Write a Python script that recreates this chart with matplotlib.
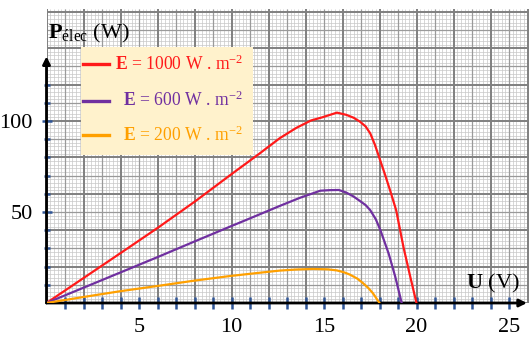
import numpy as np
import matplotlib
matplotlib.use('Agg')
import matplotlib.pyplot as plt
from matplotlib.patches import Rectangle
from matplotlib.lines import Line2D

plt.rcParams['font.family'] = ['Liberation Serif', 'DejaVu Serif']
plt.rcParams['mathtext.fontset'] = 'custom'
plt.rcParams['mathtext.rm'] = 'Liberation Serif'
plt.rcParams['mathtext.bf'] = 'Liberation Serif:bold'
plt.rcParams['mathtext.it'] = 'Liberation Serif:italic'

# P(U) curves
U_1000 = [0, 2, 4, 6, 8, 10, 11.5, 12.6, 13.5, 14.3, 14.9, 15.3, 15.7, 16.2,
          16.6, 16.95, 17.25, 17.5, 17.75, 18.0, 18.3, 18.6, 18.9, 19.3, 19.65, 20.0]
P_1000 = [0, 13.7, 27.4, 41.2, 55.6, 70.8, 82, 90.5, 96.2, 100.3, 102, 103.3,
          104.6, 103.4, 101.8, 99.6, 97, 93.2, 87, 79.5, 70.5, 61, 51, 30.5, 15, 0]

U_600 = [0, 2, 4, 6, 8, 10, 11, 12.6, 13.7, 14.8, 15.3, 15.8, 16.2, 16.6,
         16.95, 17.25, 17.5, 17.8, 18.05, 18.5, 18.85, 19.2]
P_600 = [0, 8.4, 16.8, 25.2, 33.8, 42.3, 46.5, 53.3, 57.8, 61.7, 62, 62.1,
         60.7, 58.5, 56, 53.8, 51, 46, 40, 27, 14.5, 0]

U_200 = [0, 2, 4, 6.1, 8, 9.9, 11.5, 12.6, 13.5, 14.4, 15.2, 15.7, 16.1, 16.4,
         16.8, 17.1, 17.4, 17.65, 18.0]
P_200 = [0, 3.3, 6.5, 9.5, 12.3, 14.8, 16.6, 17.8, 18.4, 18.7, 18.5, 17.9,
         16.8, 15.6, 13.4, 11, 8.2, 5.3, 0]

labels = ['1000', '600', '200']
cols = ['#ff1a1a', '#7030a0', '#ffa000']

x_ticklabels = [5, 10, 15, 20, 25]
x_minor = [1, 2, 3, 4, 6, 7, 8, 9, 11, 12, 13, 14, 16, 17, 18, 19, 21, 22, 23, 24]
y_ticklabels = [50, 100]
y_minor = [10, 20, 30, 40, 60, 70, 80, 90, 110, 120]

W, H = 529, 339
fig = plt.figure(figsize=(W / 100, H / 100), dpi=100, facecolor='w')
# origin at pixel (46.5, 303), 18.5 px per volt, 1.82 px per watt
ax = fig.add_axes([46.5 / W, 36 / H, (W - 46.5) / W, 294 / H])
xmax = (W - 46.5) / 18.5
ymax = 294 / 1.82
ax.set_xlim(0, xmax)
ax.set_ylim(0, ymax)
for s in ax.spines.values():
    s.set_visible(False)

# graph paper
ax.vlines(np.arange(0, 27, 0.2), 0, ymax, color='#c8c8c8', lw=0.5, zorder=0)
ax.hlines(np.arange(0, 162, 2), 0, xmax, color='#c8c8c8', lw=0.5, zorder=0)
ax.vlines(np.arange(1, 27, 2), 0, ymax, color='#9a9a9a', lw=0.9, zorder=0)
ax.hlines(np.arange(10, 162, 20), 0, xmax, color='#9a9a9a', lw=0.9, zorder=0)
ax.vlines(np.arange(0, 27, 2), 0, ymax, color='#808080', lw=1.4, zorder=0)
ax.hlines(np.arange(0, 162, 20), 0, xmax, color='#808080', lw=1.4, zorder=0)

# axes with arrows
ax.annotate('', xy=(25.97, 0), xytext=(0, 0), annotation_clip=False,
            arrowprops=dict(arrowstyle='-|>', color='k', lw=2, shrinkA=0,
                            shrinkB=0, mutation_scale=11))
ax.annotate('', xy=(0, 135.5), xytext=(0, 0), annotation_clip=False,
            arrowprops=dict(arrowstyle='-|>', color='k', lw=2, shrinkA=0,
                            shrinkB=0, mutation_scale=11))

tick_col = '#2f5597'
ax.set_xticks(x_ticklabels)
ax.set_xticks(x_minor, minor=True)
ax.set_yticks(y_ticklabels)
ax.set_yticks(y_minor, minor=True)
ax.tick_params(axis='x', which='both', direction='inout', length=8,
               width=1.8, color=tick_col, labelsize=16, pad=7)
ax.tick_params(axis='y', which='major', direction='inout', length=7.5,
               width=1.8, color=tick_col, labelsize=16, pad=6)
ax.tick_params(axis='y', which='minor', direction='inout', length=4.5,
               width=1.8, color=tick_col)

ax.plot(U_1000, P_1000, color=cols[0], lw=1.6, zorder=5, solid_joinstyle='round')
ax.plot(U_600, P_600, color=cols[1], lw=1.6, zorder=5, solid_joinstyle='round')
ax.plot(U_200, P_200, color=cols[2], lw=1.6, zorder=5, solid_joinstyle='round')

# axis titles
fig.text(48 / W, 1 - 38 / H, r'$\mathbf{P}_{\mathrm{élec}}$ (W)', fontsize=16,
         ha='left', va='baseline')
fig.text(466 / W, 1 - 288 / H, r'$\mathbf{U}$ (V)', fontsize=16,
         ha='left', va='baseline')

# legend box
fig.patches.append(Rectangle((81 / W, 1 - 155 / H), 172 / W, 108 / H,
                             transform=fig.transFigure, facecolor='#fff2cc',
                             edgecolor='none', zorder=3))
rows_y = [64, 100.5, 135]
for k in range(3):
    yy = 1 - rows_y[k] / H
    fig.lines.append(Line2D([83 / W, 109 / W], [yy, yy], transform=fig.transFigure,
                            color=cols[k], lw=2.4, zorder=4))
    fig.text(243 / W, yy, r'$\mathbf{E}$ = ' + labels[k] + r' W . m$^{-2}$',
             color=cols[k], fontsize=12.7, ha='right', va='center', zorder=4)

fig.savefig('out.png', dpi=100)
